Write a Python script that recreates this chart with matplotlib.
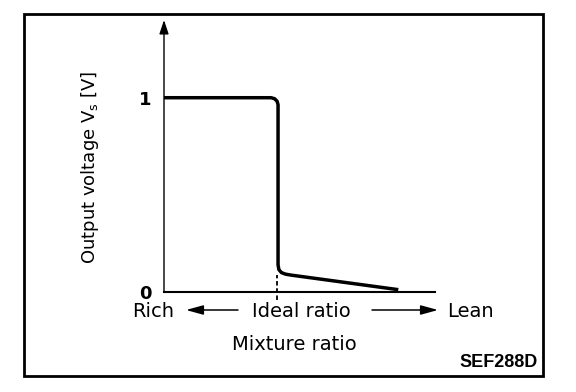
import matplotlib
matplotlib.use('Agg')
import matplotlib.pyplot as plt
from matplotlib.patches import Rectangle

# O2 sensor output vs mixture ratio (lambda)
lam = [0.80, 0.9896, 0.9958, 1.0003, 1.002, 1.002, 1.0035, 1.008, 1.015, 1.025, 1.215]
vs = [1.00, 1.00, 0.995, 0.982, 0.964, 0.14, 0.115, 0.100, 0.092, 0.087, 0.012]

x_min, x_max = 0.80, 1.28
y_max = 1.40
ideal = 1.0
yticks = [0, 1]
ytick_labels = ['0', '1']

W, H = 576, 392
fig = plt.figure(figsize=(W / 100, H / 100), dpi=100)
plt.rcParams['font.family'] = 'DejaVu Sans'

def fx(px):
    return px / W

def fy(py):
    return 1 - py / H

ax = fig.add_axes([fx(164), fy(292), fx(435) - fx(164), fy(20) - fy(292)])
ax.set_xlim(x_min, x_max)
ax.set_ylim(0, y_max)
for s in ['top', 'right', 'left']:
    ax.spines[s].set_visible(False)
ax.spines['bottom'].set_linewidth(1.5)
ax.set_xticks([])
ax.set_yticks(yticks)
ax.set_yticklabels(ytick_labels, fontsize=13, fontweight='bold')
ax.tick_params(axis='y', length=0, pad=9)
ax.patch.set_visible(False)

# y axis with arrow
ax.annotate('', xy=(x_min, y_max), xytext=(x_min, 0),
            arrowprops=dict(arrowstyle='-|>,head_length=0.6,head_width=0.2', lw=1.0,
                            color='black', mutation_scale=14, shrinkA=0, shrinkB=0),
            annotation_clip=False)

# the curve
ax.plot(lam, vs, color='black', lw=2.5, solid_joinstyle='round',
        solid_capstyle='butt', clip_on=False)

# dashed mark at the ideal ratio
ax.plot([ideal, ideal], [-0.04, 0.09], color='black', lw=1.3,
        ls=(0, (2.5, 1.5)), clip_on=False)

# bottom labels
fig.text(fx(153), fy(317), 'Rich', fontsize=14, ha='center', va='baseline')
fig.text(fx(301), fy(317), 'Ideal ratio', fontsize=14, ha='center', va='baseline')
fig.text(fx(470), fy(317), 'Lean', fontsize=14, ha='center', va='baseline')
fig.text(fx(294), fy(350), 'Mixture ratio', fontsize=14, ha='center', va='baseline')
fig.text(fx(538), fy(367), 'SEF288D', fontsize=13, fontweight='bold',
         family='Liberation Sans', ha='right', va='baseline')

for x0, x1 in [(238, 186), (372, 438)]:
    fig.add_artist(plt.Annotation('', xy=(fx(x1), fy(310)), xytext=(fx(x0), fy(310)),
                                  xycoords='figure fraction', textcoords='figure fraction',
                                  arrowprops=dict(arrowstyle='-|>,head_length=0.8,head_width=0.22',
                                                  lw=1.1, color='black',
                                                  mutation_scale=13, shrinkA=0, shrinkB=0)))

fig.text(fx(90), fy(167), 'Output voltage V$_\\mathregular{s}$ [V]', fontsize=13,
         rotation=90, ha='center', va='center')

# outer frame
fig.add_artist(Rectangle((fx(24), fy(376)), fx(543) - fx(24), fy(14) - fy(376),
                         transform=fig.transFigure, fill=False, lw=2.0, ec='black'))

fig.savefig('out.png', dpi=100)
